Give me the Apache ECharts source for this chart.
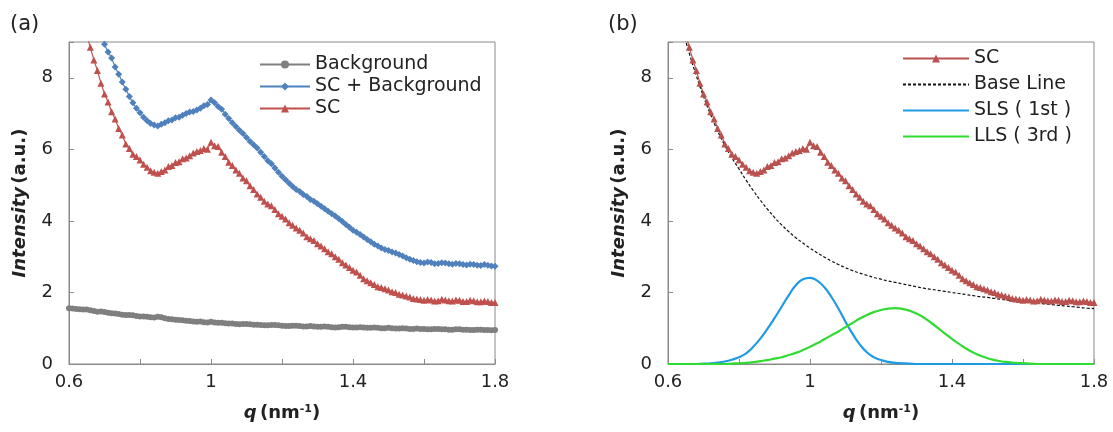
<!DOCTYPE html>
<html>
<head>
<meta charset="utf-8">
<script src="https://cdn.jsdelivr.net/npm/echarts@6/dist/echarts.min.js"></script>
<style>
  html, body { margin: 0; padding: 0; background: #fff; }
  #chart { width: 1113px; height: 432px; }
</style>
</head>
<body>
<div id="chart"></div>
<script>
// measured q grid (nm^-1), one point every 0.01
const qFine = [
  0.60, 0.61, 0.62, 0.63, 0.64, 0.65, 0.66, 0.67, 0.68, 0.69,
  0.70, 0.71, 0.72, 0.73, 0.74, 0.75, 0.76, 0.77, 0.78, 0.79,
  0.80, 0.81, 0.82, 0.83, 0.84, 0.85, 0.86, 0.87, 0.88, 0.89,
  0.90, 0.91, 0.92, 0.93, 0.94, 0.95, 0.96, 0.97, 0.98, 0.99,
  1.00, 1.01, 1.02, 1.03, 1.04, 1.05, 1.06, 1.07, 1.08, 1.09,
  1.10, 1.11, 1.12, 1.13, 1.14, 1.15, 1.16, 1.17, 1.18, 1.19,
  1.20, 1.21, 1.22, 1.23, 1.24, 1.25, 1.26, 1.27, 1.28, 1.29,
  1.30, 1.31, 1.32, 1.33, 1.34, 1.35, 1.36, 1.37, 1.38, 1.39,
  1.40, 1.41, 1.42, 1.43, 1.44, 1.45, 1.46, 1.47, 1.48, 1.49,
  1.50, 1.51, 1.52, 1.53, 1.54, 1.55, 1.56, 1.57, 1.58, 1.59,
  1.60, 1.61, 1.62, 1.63, 1.64, 1.65, 1.66, 1.67, 1.68, 1.69,
  1.70, 1.71, 1.72, 1.73, 1.74, 1.75, 1.76, 1.77, 1.78, 1.79,
  1.80
];

const background = [
  1.56, 1.55, 1.54, 1.53, 1.52, 1.52, 1.50, 1.48, 1.46, 1.47,
  1.45, 1.43, 1.42, 1.41, 1.40, 1.38, 1.37, 1.37, 1.36, 1.34,
  1.33, 1.33, 1.32, 1.31, 1.30, 1.32, 1.31, 1.28, 1.26, 1.25,
  1.24, 1.23, 1.22, 1.21, 1.20, 1.19, 1.18, 1.19, 1.17, 1.16,
  1.18, 1.16, 1.15, 1.15, 1.14, 1.13, 1.13, 1.12, 1.11, 1.12,
  1.12, 1.11, 1.10, 1.10, 1.09, 1.08, 1.08, 1.09, 1.09, 1.08,
  1.07, 1.06, 1.06, 1.07, 1.07, 1.06, 1.05, 1.05, 1.06, 1.05,
  1.04, 1.04, 1.05, 1.04, 1.03, 1.02, 1.03, 1.04, 1.04, 1.03,
  1.02, 1.02, 1.03, 1.02, 1.01, 1.01, 1.02, 1.01, 1.00, 1.00,
  1.01, 1.00, 0.99, 0.99, 1.00, 0.99, 0.98, 0.98, 0.99, 0.98,
  0.98, 0.97, 0.97, 0.98, 0.98, 0.97, 0.97, 0.96, 0.96, 0.97,
  0.97, 0.96, 0.96, 0.95, 0.95, 0.96, 0.96, 0.95, 0.95, 0.94,
  0.95
];

const scBackground = [
  12.9, 12.45, 12.0, 11.55, 11.1, 10.7, 10.3, 9.90, 9.55, 9.25,
  8.94, 8.72, 8.55, 8.30, 8.10, 7.88, 7.68, 7.48, 7.30, 7.15,
  7.02, 6.90, 6.80, 6.72, 6.68, 6.65, 6.70, 6.74, 6.80, 6.82,
  6.88, 6.90, 6.95, 7.00, 7.04, 7.06, 7.10, 7.15, 7.22, 7.25,
  7.38, 7.30, 7.20, 7.12, 6.98, 6.86, 6.74, 6.64, 6.53, 6.44,
  6.33, 6.22, 6.13, 6.04, 5.92, 5.80, 5.68, 5.60, 5.48, 5.36,
  5.25, 5.15, 5.05, 4.96, 4.88, 4.82, 4.74, 4.68, 4.60, 4.55,
  4.48, 4.41, 4.34, 4.27, 4.20, 4.14, 4.06, 3.98, 3.90, 3.82,
  3.74, 3.68, 3.62, 3.55, 3.48, 3.42, 3.35, 3.30, 3.24, 3.20,
  3.17, 3.13, 3.10, 3.06, 3.02, 2.97, 2.93, 2.89, 2.86, 2.84,
  2.82, 2.85, 2.84, 2.80, 2.81, 2.83, 2.82, 2.80, 2.79, 2.81,
  2.80, 2.78, 2.77, 2.79, 2.78, 2.76, 2.75, 2.78, 2.76, 2.74,
  2.73
];

const sc = [
  11.2, 10.8, 10.4, 9.95, 9.55, 9.20, 8.85, 8.50, 8.20, 7.85,
  7.55, 7.32, 7.05, 6.85, 6.58, 6.40, 6.15, 6.02, 5.86, 5.80,
  5.70, 5.58, 5.50, 5.40, 5.36, 5.33, 5.38, 5.42, 5.52, 5.55,
  5.63, 5.65, 5.74, 5.76, 5.82, 5.90, 5.94, 5.97, 6.02, 6.00,
  6.20, 6.10, 6.08, 5.92, 5.80, 5.64, 5.55, 5.42, 5.33, 5.20,
  5.12, 4.98, 4.88, 4.75, 4.66, 4.55, 4.47, 4.42, 4.32, 4.20,
  4.13, 4.05, 3.95, 3.88, 3.80, 3.74, 3.66, 3.56, 3.50, 3.45,
  3.36, 3.30, 3.22, 3.14, 3.08, 3.00, 2.93, 2.83, 2.77, 2.70,
  2.62, 2.57, 2.48, 2.38, 2.33, 2.27, 2.22, 2.16, 2.14, 2.10,
  2.07, 2.02, 2.00, 1.95, 1.93, 1.90, 1.87, 1.83, 1.82, 1.80,
  1.78, 1.80, 1.79, 1.76, 1.77, 1.81, 1.79, 1.77, 1.76, 1.79,
  1.78, 1.75, 1.75, 1.78, 1.77, 1.74, 1.74, 1.76, 1.75, 1.72,
  1.72
];

// fitted curves, one point every 0.02
const qCoarse = [
  0.60, 0.62, 0.64, 0.66, 0.68, 0.70, 0.72, 0.74, 0.76, 0.78,
  0.80, 0.82, 0.84, 0.86, 0.88, 0.90, 0.92, 0.94, 0.96, 0.98,
  1.00, 1.02, 1.04, 1.06, 1.08, 1.10, 1.12, 1.14, 1.16, 1.18,
  1.20, 1.22, 1.24, 1.26, 1.28, 1.30, 1.32, 1.34, 1.36, 1.38,
  1.40, 1.42, 1.44, 1.46, 1.48, 1.50, 1.52, 1.54, 1.56, 1.58,
  1.60, 1.62, 1.64, 1.66, 1.68, 1.70, 1.72, 1.74, 1.76, 1.78,
  1.80
];

const baseLine = [
  11.0, 10.15, 9.38, 8.68, 8.05, 7.48, 6.97, 6.51, 6.11, 5.76,
  5.45, 5.14, 4.85, 4.58, 4.33, 4.10, 3.89, 3.70, 3.53, 3.38,
  3.24, 3.11, 2.99, 2.88, 2.78, 2.69, 2.61, 2.54, 2.48, 2.42,
  2.37, 2.32, 2.28, 2.24, 2.20, 2.16, 2.12, 2.09, 2.06, 2.03,
  2.00, 1.97, 1.94, 1.91, 1.88, 1.86, 1.83, 1.81, 1.78, 1.76,
  1.74, 1.72, 1.70, 1.68, 1.66, 1.64, 1.62, 1.60, 1.58, 1.56,
  1.55
];

const sls = [
  0, 0, 0, 0, 0, 0.01, 0.02, 0.04, 0.07, 0.12,
  0.19, 0.30, 0.48, 0.71, 0.98, 1.28, 1.60, 1.92, 2.20, 2.37,
  2.41, 2.33, 2.15, 1.88, 1.55, 1.18, 0.84, 0.55, 0.33, 0.19,
  0.11, 0.06, 0.03, 0.02, 0.01, 0, 0, 0, 0, 0,
  0, 0, 0, 0, 0, 0, 0, 0, 0, 0,
  0, 0, 0, 0, 0, 0, 0, 0, 0, 0,
  0
];

const lls = [
  0, 0, 0, 0, 0, 0, 0, 0, 0, 0.01,
  0.02, 0.03, 0.05, 0.08, 0.11, 0.15, 0.19, 0.25, 0.31, 0.39,
  0.48, 0.58, 0.69, 0.80, 0.91, 1.03, 1.15, 1.27, 1.37, 1.45,
  1.51, 1.55, 1.56, 1.54, 1.49, 1.41, 1.30, 1.16, 1.01, 0.85,
  0.70, 0.56, 0.43, 0.32, 0.23, 0.16, 0.11, 0.07, 0.05, 0.03,
  0.02, 0.01, 0, 0, 0, 0, 0, 0, 0, 0,
  0
];

const xLabels = [0.6, 1, 1.4, 1.8];
const yLabels = [0, 2, 4, 6, 8];

const fine = (ys) => qFine.map((x, i) => [x, ys[i]]);
const coarse = (ys) => qCoarse.map((x, i) => [x, ys[i]]);

const font = 'DejaVu Sans';
const axisColor = '#8a8a8a';

const xAxisFor = (gridIndex) => ({
  type: 'value',
  gridIndex,
  min: 0.6,
  max: 1.8,
  interval: 0.2,
  axisLine: { lineStyle: { color: axisColor, width: 1 } },
  axisTick: { inside: true, length: 5, lineStyle: { color: axisColor } },
  splitLine: { show: false },
  axisLabel: {
    color: '#222',
    fontFamily: font,
    fontSize: 18,
    margin: 9,
    formatter: (v) => {
      const hit = xLabels.find((t) => Math.abs(t - v) < 1e-6);
      return hit === undefined ? '' : String(hit);
    }
  },
  name: '{i|q} {b|(nm}{s|-1}{b|)}',
  nameLocation: 'middle',
  nameGap: 40,
  nameTextStyle: {
    rich: {
      i: { fontFamily: font, fontSize: 18, fontWeight: 'bold', fontStyle: 'italic', color: '#222' },
      b: { fontFamily: font, fontSize: 18, fontWeight: 'bold', color: '#222' },
      s: { fontFamily: font, fontSize: 11, fontWeight: 'bold', color: '#222', verticalAlign: 'top', padding: [0, 0, 8, 0] }
    }
  }
});

const yAxisFor = (gridIndex) => ({
  type: 'value',
  gridIndex,
  min: 0,
  max: 9,
  interval: 2,
  axisLine: { show: true, lineStyle: { color: axisColor, width: 1 } },
  axisTick: { show: true, inside: true, length: 5, lineStyle: { color: axisColor } },
  splitLine: { show: false },
  axisLabel: {
    color: '#222',
    fontFamily: font,
    fontSize: 18,
    margin: 16,
    formatter: (v) => (yLabels.indexOf(v) >= 0 ? String(v) : '')
  },
  name: '{i|Intensity} {b|(a.u.)}',
  nameLocation: 'middle',
  nameRotate: 90,
  nameGap: 40,
  nameTextStyle: {
    rich: {
      i: { fontFamily: font, fontSize: 18, fontWeight: 'bold', fontStyle: 'italic', color: '#222' },
      b: { fontFamily: font, fontSize: 18, fontWeight: 'bold', color: '#222' }
    }
  }
});

const legendText = { fontFamily: font, fontSize: 19, color: '#222' };
const noMarker = { opacity: 0 };

const option = {
  animation: false,
  backgroundColor: '#fff',
  graphic: [
    { type: 'text', left: 10, top: 14, style: { text: '(a)', font: '21px "DejaVu Sans"', fill: '#222' } },
    { type: 'text', left: 608, top: 14, style: { text: '(b)', font: '21px "DejaVu Sans"', fill: '#222' } }
  ],
  grid: [
    { left: 69, top: 42, width: 426, height: 322, show: true, borderColor: axisColor, borderWidth: 1 },
    { left: 668, top: 42, width: 426, height: 322, show: true, borderColor: axisColor, borderWidth: 1 }
  ],
  xAxis: [xAxisFor(0), xAxisFor(1)],
  yAxis: [yAxisFor(0), yAxisFor(1)],
  legend: [
    {
      left: 254, top: 50, orient: 'vertical',
      itemWidth: 50, itemHeight: 10, itemGap: 3,
      textStyle: legendText,
      data: ['Background', 'SC + Background', 'SC']
    },
    {
      left: 897, top: 44, orient: 'vertical',
      itemWidth: 66, itemHeight: 10, itemGap: 7,
      textStyle: legendText,
      data: [
        'SC ',
        { name: 'Base Line', itemStyle: noMarker },
        { name: 'SLS ( 1st )', itemStyle: noMarker },
        { name: 'LLS ( 3rd )', itemStyle: noMarker }
      ]
    }
  ],
  series: [
    {
      name: 'Background', type: 'line', xAxisIndex: 0, yAxisIndex: 0,
      data: fine(background),
      symbol: 'circle', symbolSize: 6,
      lineStyle: { color: '#7f7f7f', width: 1.2 },
      itemStyle: { color: '#7f7f7f' }
    },
    {
      name: 'SC + Background', type: 'line', xAxisIndex: 0, yAxisIndex: 0,
      data: fine(scBackground),
      symbol: 'diamond', symbolSize: 7,
      lineStyle: { color: '#4f81bd', width: 1.2 },
      itemStyle: { color: '#4f81bd' }
    },
    {
      name: 'SC', type: 'line', xAxisIndex: 0, yAxisIndex: 0,
      data: fine(sc),
      symbol: 'triangle', symbolSize: 7,
      lineStyle: { color: '#c0504d', width: 1.2 },
      itemStyle: { color: '#c0504d' }
    },
    {
      name: 'SC ', type: 'line', xAxisIndex: 1, yAxisIndex: 1,
      data: fine(sc),
      symbol: 'triangle', symbolSize: 7,
      lineStyle: { color: '#b9524f', width: 1.2 },
      itemStyle: { color: '#b9524f' }
    },
    {
      name: 'Base Line', type: 'line', xAxisIndex: 1, yAxisIndex: 1,
      data: coarse(baseLine),
      symbol: 'none', smooth: true,
      lineStyle: { color: '#111', width: 1.2, type: [3, 2] },
      itemStyle: { color: '#111' }
    },
    {
      name: 'SLS ( 1st )', type: 'line', xAxisIndex: 1, yAxisIndex: 1,
      data: coarse(sls),
      symbol: 'none', smooth: true,
      lineStyle: { color: '#1f9be3', width: 2.2 },
      itemStyle: { color: '#1f9be3' }
    },
    {
      name: 'LLS ( 3rd )', type: 'line', xAxisIndex: 1, yAxisIndex: 1,
      data: coarse(lls),
      symbol: 'none', smooth: true,
      lineStyle: { color: '#2fdc2f', width: 2.2 },
      itemStyle: { color: '#2fdc2f' }
    }
  ]
};

const chart = echarts.init(document.getElementById('chart'));
chart.setOption(option);
</script>
</body>
</html>
